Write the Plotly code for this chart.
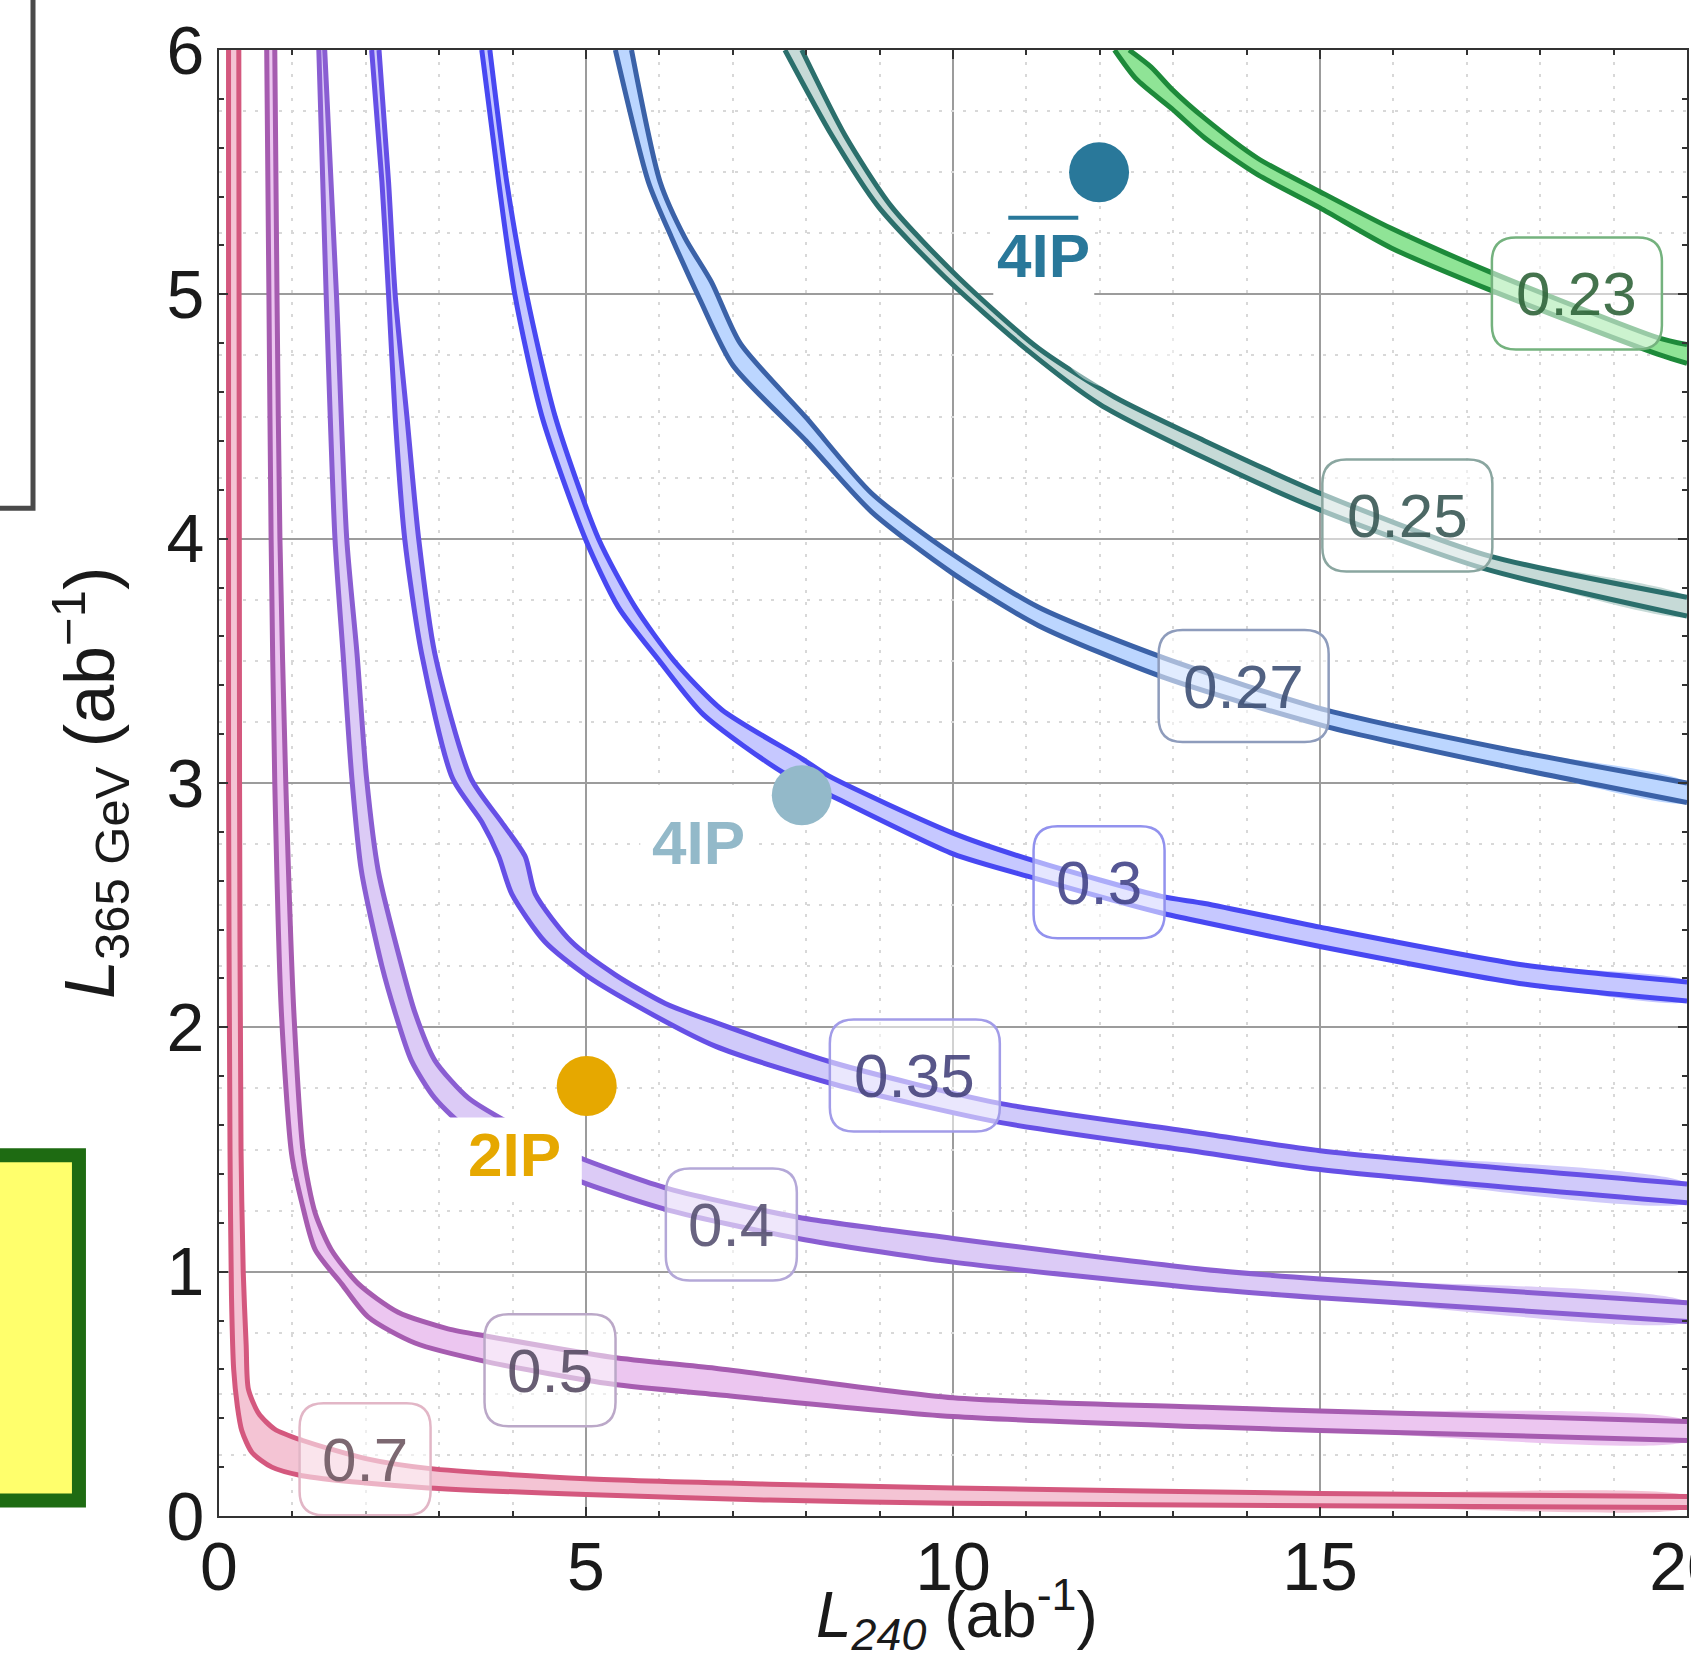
import plotly.graph_objects as go

FONT = "Liberation Sans, Arial, Helvetica, sans-serif"

# ---------------- axes ----------------
x_range = [0, 20]
y_range = [0, 6]

# ---------------- contour bands ----------------
# every band is drawn from its lower/left edge and its upper/right edge
level_names = ["0.7", "0.5", "0.4", "0.35", "0.3", "0.27", "0.25", "0.23"]

b070_lo_x = [0.13, 0.13, 0.15, 0.17, 0.20, 0.25, 0.31, 0.45, 0.72, 1.13, 2.0, 2.85, 5.0, 7.5, 10.0, 15.0, 20.0]
b070_lo_y = [6.0, 3.0, 1.5, 0.9, 0.6, 0.45, 0.35, 0.26, 0.20, 0.165, 0.135, 0.115, 0.088, 0.065, 0.052, 0.042, 0.035]
b070_hi_x = [0.27, 0.28, 0.30, 0.33, 0.37, 0.40, 0.54, 0.76, 1.13, 2.0, 2.85, 5.0, 7.5, 10.0, 15.0, 20.0]
b070_hi_y = [6.0, 3.0, 1.5, 1.0, 0.7, 0.52, 0.42, 0.355, 0.31, 0.235, 0.195, 0.152, 0.13, 0.115, 0.092, 0.08]

b050_lo_x = [0.65, 0.68, 0.71, 0.76, 0.85, 0.99, 1.13, 1.31, 1.67, 2.03, 2.67, 3.67, 5.35, 6.76, 10.0, 13.43, 15.0, 20.0]
b050_lo_y = [6.0, 5.0, 4.0, 3.0, 2.06, 1.48, 1.28, 1.09, 0.95, 0.815, 0.708, 0.63, 0.54, 0.497, 0.407, 0.365, 0.35, 0.309]
b050_hi_x = [0.76, 0.79, 0.83, 0.91, 1.02, 1.15, 1.31, 1.53, 1.90, 2.44, 3.12, 3.67, 5.35, 6.76, 10.0, 13.43, 15.0, 20.0]
b050_hi_y = [6.0, 5.0, 4.0, 3.0, 2.06, 1.48, 1.24, 1.09, 0.95, 0.834, 0.766, 0.735, 0.65, 0.605, 0.484, 0.445, 0.43, 0.387]

b040_lo_x = [1.36, 1.46, 1.58, 1.69, 1.81, 1.94, 2.22, 2.40, 2.62, 2.94, 3.4, 4.2, 5.0, 6.12, 7.89, 10.0, 13.43, 15.0, 20.0]
b040_lo_y = [6.0, 5.0, 4.0, 3.53, 3.02, 2.64, 2.25, 2.06, 1.865, 1.71, 1.58, 1.46, 1.36, 1.252, 1.136, 1.039, 0.93, 0.893, 0.796]
b040_hi_x = [1.44, 1.60, 1.74, 1.88, 2.01, 2.17, 2.49, 2.67, 2.94, 3.40, 4.0, 4.5, 5.0, 6.12, 7.89, 10.0, 13.43, 15.0, 20.0]
b040_hi_y = [6.0, 5.0, 4.0, 3.53, 3.02, 2.64, 2.25, 2.06, 1.865, 1.71, 1.60, 1.52, 1.456, 1.34, 1.223, 1.136, 1.009, 0.97, 0.873]

b035_lo_x = [2.08, 2.22, 2.31, 2.40, 2.53, 2.76, 3.18, 3.58, 3.81, 3.99, 4.44, 4.99, 5.62, 6.76, 8.37, 10.62, 13.24, 15.0, 20.0]
b035_lo_y = [6.0, 5.46, 5.0, 4.5, 4.0, 3.53, 3.02, 2.84, 2.70, 2.545, 2.35, 2.215, 2.10, 1.923, 1.768, 1.612, 1.495, 1.418, 1.282]
b035_hi_x = [2.18, 2.31, 2.40, 2.56, 2.72, 2.94, 3.43, 3.85, 4.17, 4.31, 4.80, 5.40, 6.08, 6.76, 8.37, 10.62, 13.24, 15.0, 20.0]
b035_hi_y = [6.0, 5.46, 5.0, 4.5, 4.0, 3.53, 3.02, 2.84, 2.70, 2.545, 2.351, 2.215, 2.098, 2.02, 1.855, 1.69, 1.573, 1.495, 1.359]

b030_lo_x = [3.58, 3.81, 4.03, 4.40, 4.99, 5.44, 6.0, 6.6, 7.7, 8.3, 10.0, 11.12, 12.84, 13.43, 15.0, 17.8, 20.0]
b030_lo_y = [6.0, 5.46, 5.0, 4.5, 4.0, 3.72, 3.5, 3.28, 3.04, 2.954, 2.71, 2.61, 2.468, 2.429, 2.331, 2.176, 2.108]
b030_hi_x = [3.69, 3.92, 4.19, 4.58, 5.17, 5.67, 6.2, 6.85, 7.94, 8.3, 10.0, 11.12, 12.84, 13.43, 15.0, 17.8, 20.0]
b030_hi_y = [6.0, 5.46, 5.0, 4.5, 4.0, 3.72, 3.5, 3.3, 3.1, 3.03, 2.795, 2.68, 2.536, 2.507, 2.41, 2.254, 2.186]

b027_lo_x = [5.40, 5.85, 6.17, 6.55, 7.0, 8.0, 8.89, 10.0, 11.16, 12.89, 15.1, 17.5, 20.0]
b027_lo_y = [6.0, 5.46, 5.23, 4.98, 4.71, 4.40, 4.11, 3.857, 3.645, 3.43, 3.23, 3.07, 2.92]
b027_hi_x = [5.62, 6.01, 6.35, 6.71, 7.1, 8.0, 8.89, 10.0, 11.16, 12.89, 15.1, 17.5, 20.0]
b027_hi_y = [6.0, 5.46, 5.23, 5.05, 4.80, 4.495, 4.186, 3.935, 3.72, 3.51, 3.297, 3.14, 3.0]

b025_lo_x = [7.71, 8.35, 8.98, 9.89, 10.98, 12.0, 13.43, 15.0, 17.24, 20.0]
b025_lo_y = [6.0, 5.65, 5.36, 5.07, 4.78, 4.55, 4.33, 4.118, 3.877, 3.683]
b025_hi_x = [7.94, 8.53, 9.16, 10.07, 11.16, 12.2, 13.43, 15.0, 17.24, 20.0]
b025_hi_y = [6.0, 5.65, 5.36, 5.07, 4.78, 4.58, 4.40, 4.186, 3.935, 3.76]

b023_lo_x = [12.2, 12.5, 12.98, 13.43, 14.15, 15.0, 15.97, 17.33, 19.6, 20.0]
b023_lo_y = [6.0, 5.88, 5.76, 5.64, 5.49, 5.354, 5.19, 5.016, 4.755, 4.717]
b023_hi_x = [12.4, 12.7, 12.98, 13.43, 14.15, 15.0, 15.97, 17.33, 19.6, 20.0]
b023_hi_y = [6.0, 5.93, 5.84, 5.72, 5.557, 5.42, 5.27, 5.09, 4.823, 4.794]

band_lo_x = [b070_lo_x, b050_lo_x, b040_lo_x, b035_lo_x, b030_lo_x, b027_lo_x, b025_lo_x, b023_lo_x]
band_lo_y = [b070_lo_y, b050_lo_y, b040_lo_y, b035_lo_y, b030_lo_y, b027_lo_y, b025_lo_y, b023_lo_y]
band_hi_x = [b070_hi_x, b050_hi_x, b040_hi_x, b035_hi_x, b030_hi_x, b027_hi_x, b025_hi_x, b023_hi_x]
band_hi_y = [b070_hi_y, b050_hi_y, b040_hi_y, b035_hi_y, b030_hi_y, b027_hi_y, b025_hi_y, b023_hi_y]

# contour label anchors
label_x = [1.99, 4.51, 6.98, 9.48, 11.99, 13.96, 16.19, 18.50]
label_y = [0.232, 0.597, 1.193, 1.803, 2.594, 3.397, 4.095, 5.003]

# running scenarios
scen_names = ["4IP", "4IP", "2IP"]
scen_x = [11.99, 7.94, 5.01]
scen_y = [5.50, 2.95, 1.76]
scen_text_x = [11.23, 6.53, 4.03]
scen_text_y = [5.158, 2.756, 1.48]

# faded spot over the 0.25 band
haze_x, haze_y = 12.3, 4.8

# ---------------- styling ----------------
band_line = ["#d4587e", "#a65cb0", "#8a5ed2", "#6650e6", "#4848f2", "#3b62a8", "#2b6f6c", "#1d8a3a"]
band_fill = ["#f4c4d4", "#ecc6f0", "#dccbf6", "#d0cafa", "#c6c8ff", "#bcd6ff", "#c6dad7", "#8fe496"]
box_edge = ["#e2b6c6", "#bba8c8", "#b4a8d8", "#a29ce8", "#9292ee", "#8e9cbc", "#8aa6a0", "#74b27e"]
label_ink = ["rgba(110,88,98,0.9)", "rgba(88,76,100,0.9)", "rgba(88,82,114,0.9)", "rgba(70,68,124,0.9)",
             "rgba(66,68,136,0.9)", "rgba(62,80,116,0.9)", "rgba(56,88,84,0.9)", "rgba(48,100,58,0.9)"]
scen_color = ["#29789a", "#93b9c9", "#e6a800"]
# white backing box of each scenario label, pixel offsets (x0, x1, y0, y1) from the text centre
scen_box = [(-50, 51, -42, 41), (-58, 58, -53, 54), (-71, 67, -46, 37)]

fig = go.Figure()

for i, name in enumerate(level_names):
    lo_x, lo_y = band_lo_x[i], band_lo_y[i]
    hi_x, hi_y = band_hi_x[i], band_hi_y[i]
    fig.add_trace(go.Scatter(
        x=hi_x + lo_x[::-1], y=hi_y + lo_y[::-1],
        mode="lines", fill="toself", fillcolor=band_fill[i],
        line=dict(width=0, shape="spline", smoothing=0.7),
        hoverinfo="skip", showlegend=False))
    for xs, ys in ((lo_x, lo_y), (hi_x, hi_y)):
        fig.add_trace(go.Scatter(
            x=xs, y=ys, mode="lines",
            line=dict(color=band_line[i], width=5, shape="spline", smoothing=0.7),
            hoverinfo="skip", showlegend=False))

# overlay axis that only carries the dotted horizontal grid
fig.add_trace(go.Scatter(x=[], y=[], yaxis="y2", showlegend=False, hoverinfo="skip"))

fig.add_trace(go.Scatter(
    x=scen_x, y=scen_y, mode="markers",
    marker=dict(size=60, color=scen_color, line=dict(width=0)),
    hoverinfo="skip", showlegend=False))


def rounded_box(w, h, r):
    a, b = w / 2.0, h / 2.0
    return (f"M {-a + r},{-b} L {a - r},{-b} Q {a},{-b} {a},{-b + r} "
            f"L {a},{b - r} Q {a},{b} {a - r},{b} L {-a + r},{b} "
            f"Q {-a},{b} {-a},{b - r} L {-a},{-b + r} Q {-a},{-b} {-a + r},{-b} Z")


shapes = []
annotations = []

shapes.append(dict(
    type="circle", layer="above", xref="x", yref="y",
    xsizemode="pixel", ysizemode="pixel", xanchor=haze_x, yanchor=haze_y,
    x0=-60, x1=60, y0=-46, y1=46,
    fillcolor="rgba(255,255,255,0.45)", line=dict(width=0)))

for i, name in enumerate(level_names):
    w = 14 + 39 * len(name)
    shapes.append(dict(
        type="path", layer="above", xref="x", yref="y",
        xsizemode="pixel", ysizemode="pixel",
        xanchor=label_x[i], yanchor=label_y[i],
        path=rounded_box(w, 112, 24),
        fillcolor="rgba(255,255,255,0.55)",
        line=dict(color=box_edge[i], width=2.5)))
    annotations.append(dict(
        x=label_x[i], y=label_y[i], xref="x", yref="y", text=name, showarrow=False,
        font=dict(family=FONT, size=62, color=label_ink[i]),
        xanchor="center", yanchor="middle"))

for i, name in enumerate(scen_names):
    bx0, bx1, by0, by1 = scen_box[i]
    shapes.append(dict(
        type="rect", layer="above", xref="x", yref="y",
        xsizemode="pixel", ysizemode="pixel",
        xanchor=scen_text_x[i], yanchor=scen_text_y[i],
        x0=bx0, x1=bx1, y0=by0, y1=by1,
        fillcolor="white", line=dict(width=0)))
    annotations.append(dict(
        x=scen_text_x[i], y=scen_text_y[i], xref="x", yref="y",
        text=f"<b>{name}</b>", showarrow=False,
        font=dict(family=FONT, size=62, color=scen_color[i]),
        xanchor="center", yanchor="middle"))

# overbar on the first 4IP label
shapes.append(dict(
    type="line", layer="above", xref="x", yref="y",
    xsizemode="pixel", ysizemode="pixel",
    xanchor=scen_text_x[0], yanchor=scen_text_y[0],
    x0=-35, x1=35, y0=38, y1=38,
    line=dict(color=scen_color[0], width=4)))

# remnants of neighbouring panels on the left
shapes.append(dict(
    type="rect", layer="above", xref="paper", yref="paper",
    x0=-0.165, x1=-0.1267, y0=0.6874, y1=1.05,
    line=dict(color="#4a4a4a", width=5), fillcolor="rgba(0,0,0,0)"))
shapes.append(dict(
    type="rect", layer="above", xref="paper", yref="paper",
    x0=-0.165, x1=-0.0954, y0=0.0106, y1=0.246,
    line=dict(color="#1e6b12", width=14), fillcolor="#ffff6c"))

# axis titles
annotations.append(dict(
    x=-0.0879, y=0.5, xref="paper", yref="paper", textangle=-90,
    text="<i>L</i><sub>365 GeV</sub> (ab<sup>\u22121</sup>)", showarrow=False,
    font=dict(family=FONT, size=70, color="#1a1a1a"),
    xanchor="center", yanchor="middle"))
annotations.append(dict(
    x=10.05, y=-0.0671, xref="x", yref="paper",
    text="<i>L<sub>240</sub></i> (ab<sup>-1</sup>)", showarrow=False,
    font=dict(family=FONT, size=64, color="#1a1a1a"),
    xanchor="center", yanchor="middle"))

axis_common = dict(
    ticks="inside", ticklen=9, tickwidth=2, tickcolor="#333333",
    showline=True, linewidth=2, linecolor="#333333", mirror="ticks",
    showgrid=True, gridcolor="#9c9c9c", gridwidth=1.6, zeroline=False,
    tickfont=dict(family=FONT, size=68, color="#1a1a1a"),
    ticklabeloverflow="allow", automargin=False,
)

# dotted horizontal grid every quarter unit, skipping the solid integer lines
quarter_grid = [k / 4 for k in range(1, 24) if k % 4]

fig.update_layout(
    width=1691, height=1657, autosize=False,
    margin=dict(l=219, r=4, t=50, b=141, pad=0),
    paper_bgcolor="white", plot_bgcolor="white",
    showlegend=False,
    xaxis=dict(range=x_range, tickmode="linear", tick0=0, dtick=5,
               ticklabelstandoff=-10,
               minor=dict(tick0=0, dtick=1, ticks="inside", ticklen=5, tickwidth=1.5,
                          tickcolor="#333333", showgrid=True, gridcolor="#d8d8d8",
                          gridwidth=1.5, griddash="3px,9px"),
               **axis_common),
    yaxis=dict(range=y_range, tickmode="linear", tick0=0, dtick=1,
               ticklabelstandoff=-1,
               minor=dict(tick0=0, dtick=0.2, ticks="inside", ticklen=5, tickwidth=1.5,
                          tickcolor="#333333", showgrid=False),
               **axis_common),
    yaxis2=dict(range=y_range, overlaying="y", side="left", tickmode="array",
                tickvals=quarter_grid, showgrid=True, gridcolor="#d8d8d8", gridwidth=1.5,
                griddash="3px,9px", showticklabels=False, ticks="", showline=False,
                zeroline=False, automargin=False),
    shapes=shapes,
    annotations=annotations,
)

fig.write_html("out.html")
